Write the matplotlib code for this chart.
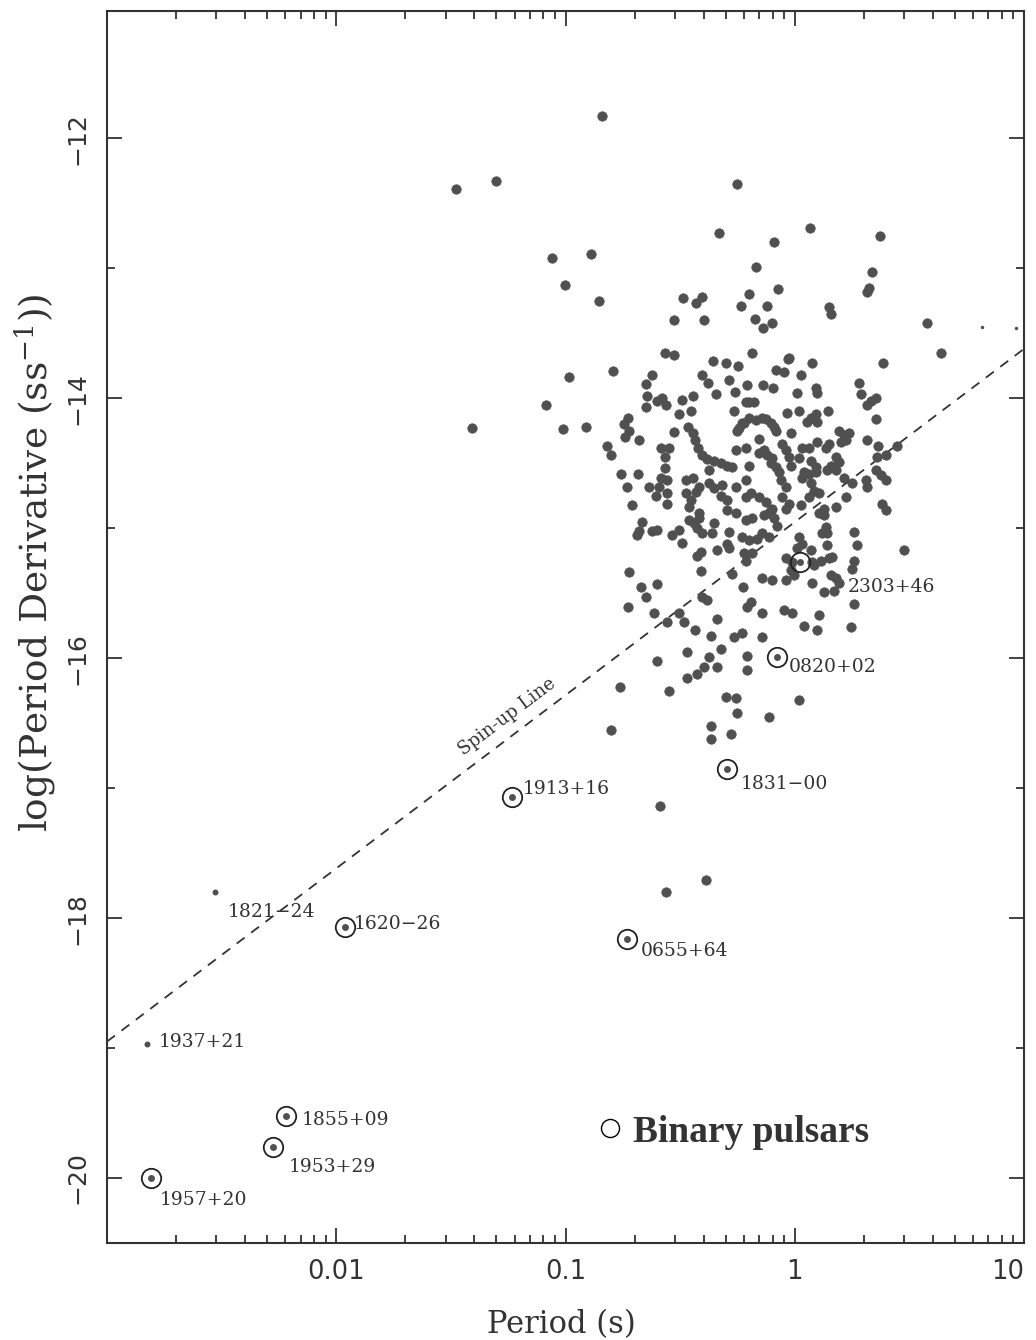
import numpy as np
import matplotlib.pyplot as plt
from matplotlib.transforms import ScaledTranslation

plt.rcParams['font.family'] = ['DejaVu Serif', 'DejaVu Sans']
plt.rcParams['mathtext.fontset'] = 'dejavuserif'

# log10 period (s) and log10 period derivative of the single pulsars
log_p = [
    -0.839, -1.479, -1.305, -0.251, -1.061, -0.887, -1.004, -0.852, -0.486, -0.403,
    -0.430, -0.525, -0.394, -0.329, -0.089, 0.067, 0.373, -0.168, 0.338, 0.325,
    0.317, -0.072, -0.199, -0.233, -0.120, 0.151, 0.159, -0.172, -0.098, -0.138,
    0.578, 0.639, 0.386, -0.185, -0.355, -0.299, -0.246, -0.028, 0.076, -0.081,
    -0.046, 0.029, -0.285, -0.403, -0.377, -0.207, -0.138, -0.093, -0.260, -0.342,
    0.011, 0.094, 0.282, 0.289, 0.099, -0.024,
    -1.410, -1.083, -1.009, -0.983, -0.909,
    -0.565, -0.525, -0.791, -0.621, -0.647, -0.643, -0.599, -0.577, -0.560, -0.651,
    -0.490, -0.446, -0.507, -0.451, -0.263, -0.211, -0.726, -0.743, -0.721, -0.739,
    -0.678, -0.821, -0.800, -0.525,
    -0.464, -0.446, -0.434, -0.421, -0.403, -0.382, -0.351, -0.321, -0.294, -0.272, -0.373,
    -0.582, -0.547, -0.565, -0.255, -0.211, -0.760, -0.682, -0.730, -0.712, -0.565,
    -0.582, -0.556, -0.590, -0.634, -0.556, -0.604, -0.556, -0.473, -0.446, -0.473,
    -0.451, -0.430, -0.416, -0.460, -0.416, -0.373, -0.351, -0.316, -0.321, -0.294,
    -0.294, -0.255, -0.211, -0.211, -0.255, -0.229, -0.251,
    -0.199, -0.177, 0.334, 0.355, 0.316, 0.355, 0.316, 0.364, 0.359, 0.399,
    0.355, 0.377, 0.399, 0.381, 0.399, -0.032, 0.020, 0.072, 0.094, 0.099,
    0.054, 0.146, -0.242, -0.220, -0.199, -0.168, -0.145, -0.124, -0.102, -0.089,
    -0.154, -0.081, -0.016, -0.133, -0.154, -0.120, -0.098, -0.102, -0.054, -0.037,
    -0.024, -0.016, -0.081, -0.068, 0.033, 0.063, 0.099, 0.020, 0.072, 0.041,
    0.094, 0.137, 0.151, 0.194, 0.216, 0.237, 0.224, 0.203, 0.181, 0.194,
    0.159, 0.142, 0.181, 0.216, 0.250, 0.312, 0.316, -0.199,
    -0.190, -0.154, -0.124, -0.059, -0.037, -0.054, -0.024, -0.037, 0.033, 0.063,
    0.094, 0.072, 0.085, 0.063, 0.106, 0.029, 0.129, 0.181, 0.224, -0.111,
    -0.098, 0.447,
    -0.665, -0.678, -0.686, -0.621, -0.599, -0.534, -0.490, -0.503, -0.460, -0.438,
    -0.416, -0.425, -0.403, -0.360, -0.351, -0.285, -0.337, -0.294, -0.285, -0.425,
    -0.407, -0.229, -0.220, -0.211, -0.721, -0.407, -0.272, -0.669, -0.599, -0.647,
    -0.726, -0.403, -0.382, -0.224, -0.207, -0.613, -0.507, -0.482, -0.556, -0.337,
    -0.434, -0.364, -0.263, -0.229, -0.468, -0.321, -0.373, -0.337, -0.394, -0.425,
    -0.468, -0.599, -0.764, -0.547, -0.207, -0.207, -0.299, -0.255,
    -0.133, -0.102, -0.089, -0.076, -0.211, -0.185, -0.199, -0.163, -0.142, -0.111,
    -0.185, -0.037, -0.011, -0.016, 0.020, 0.033, 0.011, 0.072, 0.076, 0.085,
    0.115, 0.151, 0.164, -0.002, 0.106, 0.129, 0.137, 0.142, 0.118, 0.142,
    0.259, 0.273, 0.259, 0.250, 0.477, 0.159, 0.181, 0.194, -0.142, -0.098,
    -0.037, 0.076, 0.129, 0.172, 0.259, -0.190, -0.142, -0.046, -0.011, 0.106,
    0.246, 0.041, 0.099, -0.145, 0.020, -0.111,
    -0.800, -0.586, -0.560, -0.385, -0.364, -0.364, -0.276, -0.251,
]
log_pdot = [
    -11.83, -12.39, -12.33, -12.35, -12.92, -12.89, -13.13, -13.25, -13.23, -13.22,
    -13.27, -13.40, -13.40, -12.73, -12.80, -12.69, -12.75, -12.99, -13.03, -13.15,
    -13.18, -13.16, -13.20, -13.29, -13.29, -13.30, -13.35, -13.39, -13.42, -13.46,
    -13.42, -13.65, -13.73, -13.65, -13.71, -13.73, -13.75, -13.70, -13.73, -13.78,
    -13.80, -13.82, -13.86, -13.82, -13.88, -13.90, -13.90, -13.92, -13.95, -13.97,
    -13.96, -13.92, -13.88, -13.97, -13.96, -13.69,
    -14.23, -14.05, -14.24, -13.84, -14.22,
    -13.65, -13.67, -13.79, -13.82, -13.89, -13.98, -14.02, -14.00, -14.05, -14.07,
    -14.01, -13.98, -14.12, -14.10, -14.10, -14.03, -14.15, -14.20, -14.25, -14.30,
    -14.32, -14.37, -14.44, -14.26,
    -14.22, -14.27, -14.32, -14.38, -14.44, -14.47, -14.48, -14.50, -14.52, -14.53, -14.55,
    -14.38, -14.38, -14.45, -14.40, -14.38, -14.58, -14.58, -14.68, -14.82, -14.54,
    -14.61, -14.63, -14.68, -14.68, -14.73, -14.75, -14.81, -14.63, -14.61, -14.73,
    -14.78, -14.72, -14.68, -14.84, -14.88, -14.65, -14.69, -14.67, -14.75, -14.78,
    -14.86, -14.68, -14.63, -14.76, -14.88, -14.19, -14.25,
    -14.03, -14.03, -14.02, -14.00, -14.05, -14.16, -14.32, -14.37, -14.45, -14.44,
    -14.55, -14.59, -14.63, -14.81, -14.86, -14.11, -14.10, -14.15, -14.12, -14.18,
    -14.18, -14.10, -14.23, -14.19, -14.15, -14.17, -14.15, -14.16, -14.19, -14.22,
    -14.31, -14.25, -14.27, -14.40, -14.42, -14.44, -14.46, -14.50, -14.35, -14.40,
    -14.45, -14.52, -14.53, -14.57, -14.38, -14.38, -14.34, -14.46, -14.48, -14.57,
    -14.53, -14.38, -14.35, -14.25, -14.28, -14.27, -14.32, -14.34, -14.45, -14.49,
    -14.52, -14.55, -14.55, -14.61, -14.65, -14.63, -14.68, -14.52,
    -14.73, -14.76, -14.80, -14.63, -14.68, -14.76, -14.81, -14.85, -14.61, -14.58,
    -14.57, -14.65, -14.71, -14.76, -14.73, -14.82, -14.85, -14.84, -14.76, -14.88,
    -14.85, -14.37,
    -14.95, -15.02, -15.05, -15.02, -15.01, -15.05, -15.11, -15.01, -14.94, -14.96,
    -14.92, -15.00, -15.04, -15.04, -14.96, -15.03, -15.17, -15.12, -15.15, -15.21,
    -15.18, -15.07, -15.19, -15.25, -15.34, -15.33, -15.35, -15.45, -15.43, -15.53,
    -15.61, -15.53, -15.55, -15.45, -15.61, -15.65, -15.65, -15.72, -15.72, -15.70,
    -15.78, -15.83, -15.84, -15.81, -15.95, -15.93, -15.99, -16.07, -16.07, -16.12,
    -16.15, -16.02, -16.22, -16.25, -15.98, -16.09, -16.30, -16.31,
    -14.90, -14.86, -14.92, -14.98, -14.94, -14.92, -15.09, -15.08, -15.04, -15.07,
    -15.19, -15.23, -15.26, -15.32, -15.07, -15.12, -15.15, -15.17, -15.26, -15.28,
    -15.25, -15.23, -15.22, -15.36, -14.88, -14.90, -14.99, -15.04, -15.04, -15.13,
    -15.03, -15.13, -15.25, -15.31, -15.17, -15.36, -15.38, -15.42, -15.38, -15.40,
    -15.40, -15.42, -15.49, -15.48, -15.58, -15.57, -15.65, -15.63, -15.65, -15.67,
    -15.76, -15.75, -15.78, -15.84, -16.32, -16.45,
    -16.55, -17.14, -17.80, -17.71, -16.52, -16.62, -16.58, -16.42,
]

# two faint long-period objects near the right edge
faint_log_p = [0.817, 0.965]
faint_log_pdot = [-13.45, -13.46]

# binary pulsars (ringed)
binary_names = ['2303+46', '0820+02', '1831\u221200', '1913+16', '0655+64',
                '1620\u221226', '1855+09', '1953+29', '1957+20']
binary_log_p = [0.024, -0.076, -0.294, -1.235, -0.730, -1.963, -2.220, -2.277, -2.808]
binary_log_pdot = [-15.26, -15.99, -16.85, -17.07, -18.16, -18.07, -19.52, -19.76, -20.00]

# isolated millisecond pulsars
msp_names = ['1937+21', '1821\u221224']
msp_log_p = [-2.826, -2.530]
msp_log_pdot = [-18.97, -17.80]

# spin-up line end points
spinup_log_p = [-3.0, 1.0]
spinup_log_pdot = [-18.95, -13.62]

# label offsets (points) from each marked pulsar
label_offsets = {
    '2303+46': (34.5, -18), '0820+02': (8, -7), '1831\u221200': (9.5, -11),
    '1913+16': (8, 6), '0655+64': (9.5, -9), '1620\u221226': (6.5, 2),
    '1855+09': (11.5, -3.5), '1953+29': (11.5, -14.5), '1957+20': (6, -16),
    '1937+21': (8.5, 1.5), '1821\u221224': (9.5, -14),
}

dot_color = '#505050'
ink = '#333333'

fig = plt.figure(figsize=(10.36, 13.4), dpi=100)
ax = fig.add_axes([0.1033, 0.0724, 0.8851, 0.9194])

ax.plot(10 ** np.array(log_p), log_pdot, 'o', ms=6.8, color=dot_color, mec=dot_color, mew=0.5, zorder=3)
ax.plot(10 ** np.array(faint_log_p), faint_log_pdot, 'o', ms=2.5, color=dot_color, mec='none', zorder=3)

ax.plot(10 ** np.array(spinup_log_p), spinup_log_pdot, ls=(0, (5.5, 4.5)), color=ink, lw=1.3, zorder=2)
ax.text(10 ** -1.253, -16.45, 'Spin-up Line', rotation=37, rotation_mode='anchor',
        ha='center', va='center', fontsize=13, color=ink)

bx = 10 ** np.array(binary_log_p)
ax.plot(bx, binary_log_pdot, 'o', ms=5, color=dot_color, mec='none', zorder=4)
ax.plot(bx, binary_log_pdot, 'o', ms=14, mfc='none', mec='#222222', mew=1.3, zorder=5)
ax.plot(10 ** np.array(msp_log_p), msp_log_pdot, 'o', ms=4.3, color=dot_color, mec='none', zorder=4)

for name, lp, lpd in zip(binary_names + msp_names, binary_log_p + msp_log_p,
                         binary_log_pdot + msp_log_pdot):
    ax.annotate(name, (10 ** lp, lpd), xytext=label_offsets[name], textcoords='offset points',
                ha='left', va='center', fontsize=13.5, color=ink)

# legend entry
ax.plot([0.5485], [0.0935], 'o', transform=ax.transAxes, ms=13, mfc='none', mec='black', mew=1.0)
ax.text(0.5736, 0.082, 'Binary pulsars', transform=ax.transAxes, family='Liberation Serif',
        fontweight='bold', fontsize=27, va='baseline', ha='left', color=ink)

ax.set_xscale('log')
ax.set_xlim(1e-3, 10)
ax.set_ylim(-20.5, -11.02)

ax.set_xticks([0.01, 0.1, 1, 10], labels=['0.01', '0.1', '1', '10'],
              fontfamily='DejaVu Sans', fontsize=18.5, color=ink)
minor_x = [m * 10.0 ** e for e in range(-3, 1) for m in range(2, 10)]
ax.set_xticks(minor_x, minor=True)
ax.set_xticklabels([], minor=True)
ax.set_yticks([-20, -18, -16, -14, -12], labels=['\u221220', '\u221218', '\u221216', '\u221214', '\u221212'],
              fontfamily='DejaVu Sans', fontsize=18, rotation=90, va='center', color=ink)
ax.set_yticks([-19, -17, -15, -13], minor=True)

# keep the last period label inside the figure edge
last = ax.get_xticklabels()[-1]
last.set_ha('right')
last.set_transform(last.get_transform() + ScaledTranslation(10 / 72, 0, fig.dpi_scale_trans))

ax.tick_params(which='both', direction='in', top=True, right=True, color=ink, width=1.3)
ax.tick_params(which='major', length=11, pad=11.5)
ax.tick_params(which='minor', length=5.5)
ax.tick_params(axis='y', which='major', pad=13)
for sp in ax.spines.values():
    sp.set_color(ink)
    sp.set_linewidth(1.5)

ax.set_xlabel('Period (s)', fontsize=22, color=ink)
ax.xaxis.set_label_coords(0.496, -0.054)
ax.set_ylabel(r'log(Period Derivative (ss$^{-1}$))', fontsize=27, color=ink)
ax.yaxis.set_label_coords(-0.053, 0.552)

fig.savefig('out.png', dpi=100)
